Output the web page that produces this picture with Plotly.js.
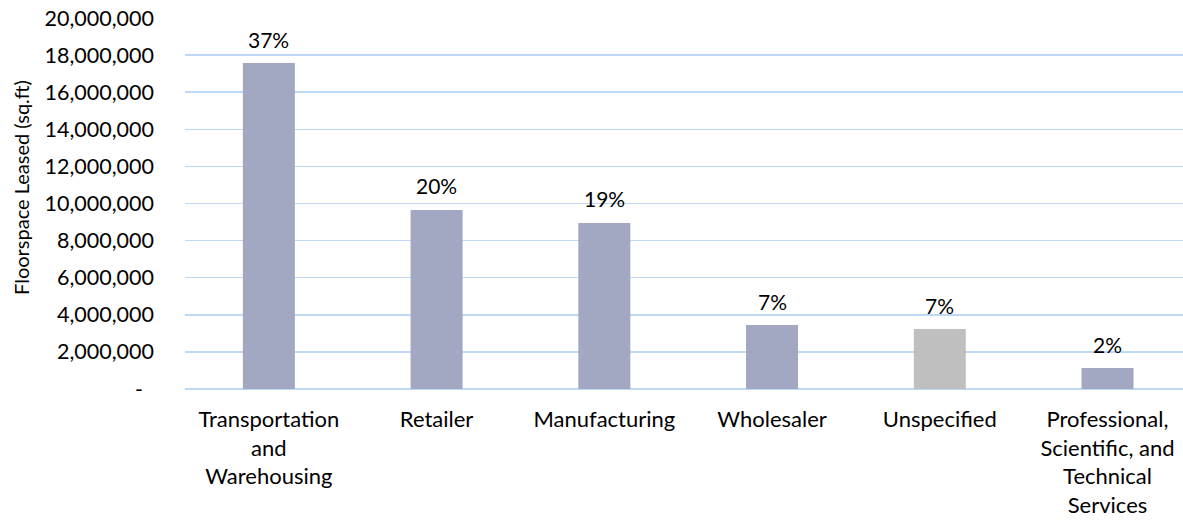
<!DOCTYPE html>
<html>
<head>
<meta charset="utf-8">
<script src="https://cdn.plot.ly/plotly-3.0.1.min.js"></script>
<style>html,body{margin:0;padding:0;background:#fff;}#chart{width:1183px;height:520px;}</style>
</head>
<body>
<div id="chart"></div>
<script>
const categories = ["Transportation<br>and<br>Warehousing", "Retailer", "Manufacturing", "Wholesaler", "Unspecified", "Professional,<br>Scientific, and<br>Technical<br>Services"];
const floorspace = [17570000, 9650000, 8950000, 3450000, 3230000, 1130000];
const shareLabels = ["37%", "20%", "19%", "7%", "7%", "2%"];
const barColors = ["#A2A7C2", "#A2A7C2", "#A2A7C2", "#A2A7C2", "#BFBFBF", "#A2A7C2"];
const yTickVals = [0, 2000000, 4000000, 6000000, 8000000, 10000000, 12000000, 14000000, 16000000, 18000000, 20000000];
const yTickText = ["-\u00a0\u00a0", "2,000,000", "4,000,000", "6,000,000", "8,000,000", "10,000,000", "12,000,000", "14,000,000", "16,000,000", "18,000,000", "20,000,000"];
const yTitle = "Floorspace Leased (sq.ft)";

const FONT = "Lato, 'Open Sans', sans-serif";
const gridColor = "#BDD9F7";

const trace = {
  type: "bar",
  x: categories,
  y: floorspace,
  marker: {color: barColors, line: {width: 0}},
  hoverinfo: "none"
};

const annotations = categories.map((c, i) => ({
  x: c, y: floorspace[i], xref: "x", yref: "y",
  text: shareLabels[i], showarrow: false,
  yanchor: "middle", yshift: 24,
  font: {family: FONT, size: 21, color: "#000"}
}));
annotations.push({
  xref: "paper", yref: "paper", x: 0, y: 0.542,
  xshift: -164, xanchor: "center", yanchor: "middle",
  textangle: -90, showarrow: false, text: yTitle,
  font: {family: FONT, size: 20, color: "#000"}
});

const layout = {
  width: 1183, height: 520,
  margin: {l: 185, r: 0, t: 18, b: 131, pad: 0},
  paper_bgcolor: "#fff", plot_bgcolor: "#fff",
  font: {family: FONT, size: 22, color: "#000"},
  bargap: 0.69,
  showlegend: false,
  xaxis: {
    type: "category",
    range: [-0.5, 5.45],
    showgrid: false, zeroline: false, showline: false,
    ticks: "", ticklabelstandoff: 15,
    tickfont: {family: FONT, size: 22, color: "#000"}
  },
  yaxis: {
    range: [0, 20000000],
    tickvals: yTickVals, ticktext: yTickText,
    showgrid: true, gridcolor: gridColor, gridwidth: 1.5,
    zeroline: true, zerolinecolor: gridColor, zerolinewidth: 1.5,
    showline: false, ticks: "", ticklabelstandoff: 30,
    tickfont: {family: FONT, size: 21.5, color: "#000"}
  },
  annotations: annotations
};

Plotly.newPlot("chart", [trace], layout, {displayModeBar: false, staticPlot: true});
</script>
</body>
</html>
